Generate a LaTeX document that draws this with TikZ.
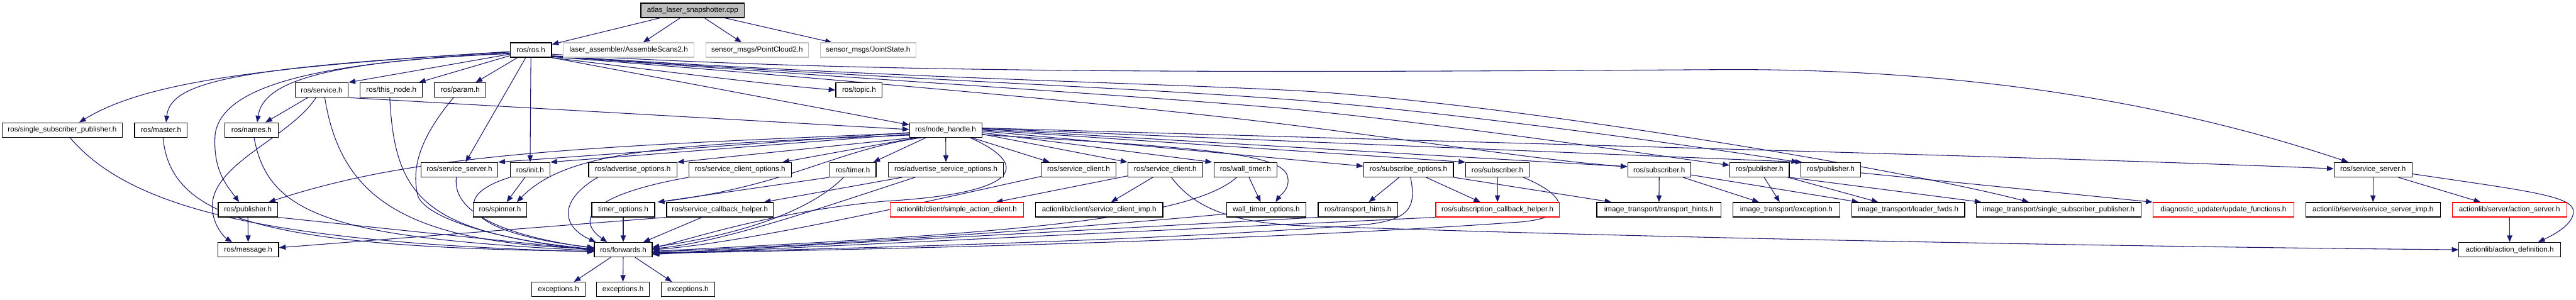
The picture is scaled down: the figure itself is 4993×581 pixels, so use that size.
\documentclass[tikz,border=0pt]{standalone}
\usepackage{fontspec}
\setmainfont{Liberation Sans}
\usetikzlibrary{arrows.meta}
\definecolor{edgec}{HTML}{191970}
\definecolor{greyb}{HTML}{BFBFBF}
\pgfdeclarelayer{bg}
\pgfsetlayers{bg,main}
\begin{document}
\begin{tikzpicture}[x=1pt,y=-1pt,
  box/.style={draw=black, line width=1.5pt, fill=white, minimum height=28pt, inner sep=0pt, font=\fontsize{14.2}{17}\selectfont},
  ghost/.style={box, draw=greyb},
  redb/.style={box, draw=red},
  e/.style={draw=edgec, line width=1.3pt, -{Triangle[length=13pt,width=10pt]}}]
\useasboundingbox (0,0) rectangle (4993,581);
% row 0
\node[box,fill=greyb,minimum width=201pt] (atlas) at (1342.5,20) {atlas\_laser\_snapshotter.cpp};
% row 1
\node[box,minimum width=80pt] (rosh) at (1029,97) {ros/ros.h};
\node[ghost,minimum width=253pt] (asm) at (1218.5,97) {laser\_assembler/AssembleScans2.h};
\node[ghost,minimum width=199pt] (pc2) at (1467.5,97) {sensor\_msgs/PointCloud2.h};
\node[ghost,minimum width=185pt] (joint) at (1682.5,97) {sensor\_msgs/JointState.h};
% row 2
\node[box,minimum width=103pt] (service) at (623.5,174.5) {ros/service.h};
\node[box,minimum width=121pt] (thisnode) at (758.5,174.5) {ros/this\_node.h};
\node[box,minimum width=100pt] (param) at (892,174.5) {ros/param.h};
\node[box,minimum width=90pt] (topic) at (1665,174.5) {ros/topic.h};
% row 3
\node[box,minimum width=233pt] (ssp) at (120.5,252) {ros/single\_subscriber\_publisher.h};
\node[box,minimum width=102pt] (master) at (312,252) {ros/master.h};
\node[box,minimum width=103pt] (names) at (487.5,252) {ros/names.h};
\node[box,minimum width=140pt] (nh) at (1833,252) {ros/node\_handle.h};
% row 4
\node[box,minimum width=149pt] (ssrvL) at (890.5,329) {ros/service\_server.h};
\node[box,minimum width=77pt] (init) at (1027.5,329) {ros/init.h};
\node[box,minimum width=171pt] (advopt) at (1226.5,329) {ros/advertise\_options.h};
\node[box,minimum width=199pt] (scopt) at (1434.5,329) {ros/service\_client\_options.h};
\node[box,minimum width=90pt] (timer) at (1653,329) {ros/timer.h};
\node[box,minimum width=223pt] (advsrv) at (1833.5,329) {ros/advertise\_service\_options.h};
\node[box,minimum width=145pt] (sc1) at (2090.5,329) {ros/service\_client.h};
\node[box,minimum width=145pt] (sc2) at (2258.5,329) {ros/service\_client.h};
\node[box,minimum width=122pt] (wtimer) at (2414,329) {ros/wall\_timer.h};
\node[box,minimum width=174pt] (subopt) at (2730,329) {ros/subscribe\_options.h};
\node[box,minimum width=123pt] (sub1) at (2902.5,329) {ros/subscriber.h};
\node[box,minimum width=122pt] (sub2) at (3216,329) {ros/subscriber.h};
\node[box,minimum width=115pt] (pubA) at (3410.5,329) {ros/publisher.h};
\node[box,minimum width=115pt] (pubB) at (3548.5,329) {ros/publisher.h};
\node[box,minimum width=151pt] (ssrvR) at (4599.5,329) {ros/service\_server.h};
% row 5
\node[box,minimum width=115pt] (pubL) at (480.5,406.5) {ros/publisher.h};
\node[box,minimum width=104pt] (spinner) at (969,406.5) {ros/spinner.h};
\node[box,minimum width=122pt] (topt) at (1208,406.5) {timer\_options.h};
\node[box,minimum width=207pt] (scbh) at (1395.5,406.5) {ros/service\_callback\_helper.h};
\node[redb,minimum width=259pt] (sac) at (1854.5,406.5) {actionlib/client/simple\_action\_client.h};
\node[box,minimum width=247pt] (scimp) at (2130.5,406.5) {actionlib/client/service\_client\_imp.h};
\node[box,minimum width=153pt] (wtopt) at (2454.5,406.5) {wall\_timer\_options.h};
\node[box,minimum width=154pt] (thints) at (2632,406.5) {ros/transport\_hints.h};
\node[redb,minimum width=239pt] (subcb) at (2902.5,406.5) {ros/subscription\_callback\_helper.h};
\node[box,minimum width=241pt] (itth) at (3215.5,406.5) {image\_transport/transport\_hints.h};
\node[box,minimum width=207pt] (itexc) at (3462.5,406.5) {image\_transport/exception.h};
\node[box,minimum width=219pt] (itlf) at (3698.5,406.5) {image\_transport/loader\_fwds.h};
\node[box,minimum width=319pt] (itssp) at (3990.5,406.5) {image\_transport/single\_subscriber\_publisher.h};
\node[redb,minimum width=273pt] (diag) at (4309.5,406.5) {diagnostic\_updater/update\_functions.h};
\node[box,minimum width=261pt] (ssimp) at (4599.5,406.5) {actionlib/server/service\_server\_imp.h};
\node[redb,minimum width=222pt] (asrv) at (4864,406.5) {actionlib/server/action\_server.h};
% row 6
\node[box,minimum width=118pt] (message) at (481,484) {ros/message.h};
\node[box,minimum width=112pt] (fwd) at (1208,484) {ros/forwards.h};
\node[box,minimum width=197pt] (actdef) at (4864.5,484) {actionlib/action\_definition.h};
% row 7
\node[box,minimum width=103pt] (exc1) at (1082.5,561) {exceptions.h};
\node[box,minimum width=103pt] (exc2) at (1207.5,561) {exceptions.h};
\node[box,minimum width=103pt] (exc3) at (1333.5,561) {exceptions.h};

\begin{pgfonlayer}{bg}
% atlas
\draw[e] ([xshift=-63]atlas.south) -- ([yshift=11]rosh.east);
\draw[e] ([xshift=-24]atlas.south) -- ([xshift=28]asm.north);
\draw[e] ([xshift=23]atlas.south) -- ([xshift=-30]pc2.north);
\draw[e] ([xshift=62]atlas.south) -- ([xshift=-70]joint.north);
% ros.h
\draw[e] ([yshift=-3]rosh.west) .. controls (500,130) and (280,160) .. ([xshift=33]ssp.north);
\draw[e] ([yshift=-4]rosh.west) .. controls (450,130) and (330,160) .. ([xshift=10]master.north);
\draw[e] ([yshift=-6]rosh.west) .. controls (620,120) and (510,160) .. ([xshift=11]names.north);
\draw[e] ([yshift=-7]rosh.west) .. controls (600,120) and (430,170) .. (417,260) .. controls (412,330) and (440,360) .. ([xshift=-17]pubL.north);
\draw[e] ([yshift=-8]rosh.west) -- (service.north east);
\draw[e] ([yshift=-11]rosh.west) -- ([xshift=-8]thisnode.north east);
\draw[e] ([xshift=-26]rosh.south) -- ([xshift=30]param.north);
\draw[e] ([xshift=-10]rosh.south) -- ([xshift=12]ssrvL.north);
\draw[e] (rosh.south) -- (init.north);
\draw[e] (rosh.south east) .. controls (1300,140) and (1500,165) .. (topic.west);
\draw[e] (rosh.south east) -- ([yshift=10]nh.west);
\draw[e] ([yshift=-11]rosh.east) .. controls (1700,150) and (2200,160) .. (2500,175) .. controls (2900,195) and (3700,330) .. ([xshift=-58]itssp.north);
\draw[e] ([yshift=-12]rosh.east) .. controls (1700,152) and (2200,170) .. (2500,193) .. controls (2800,215) and (3300,285) .. ([xshift=-5]pubB.north west);
\draw[e] ([yshift=-12]rosh.east) .. controls (1700,155) and (2200,185) .. (2500,211) .. controls (2800,240) and (3200,300) .. ([yshift=-6]pubA.north west);
\draw[e] ([yshift=-13]rosh.east) .. controls (1700,160) and (2200,205) .. (2500,242) .. controls (2800,280) and (3000,312) .. ([yshift=6]sub2.west);
\draw[e] ([yshift=-8]rosh.east) .. controls (1700,145) and (2500,140) .. (3320,135) .. controls (3900,130) and (4300,230) .. ([xshift=-48]ssrvR.north);
% service.h
\draw[e] ([xshift=-27]service.south) -- ([xshift=27]names.north);
\draw[e] ([xshift=-11]service.south) .. controls (560,270) and (400,320) .. (412,410) .. controls (416,440) and (435,460) .. ([xshift=-31]message.north);
\draw[e] ([xshift=6]service.south) .. controls (660,380) and (780,470) .. ([yshift=2]fwd.west);
\draw[e] (service.south east) -- ([yshift=1]nh.west);
\draw[e] ([xshift=-3]thisnode.south) .. controls (765,380) and (820,450) .. ([yshift=1]fwd.west);
\draw[e] ([xshift=-13]param.south) .. controls (820,260) and (795,320) .. (810,380) .. controls (830,430) and (1000,470) .. ([yshift=0]fwd.west);
% left column to forwards
\draw[e] ([xshift=15]ssp.south) .. controls (250,400) and (500,470) .. ([yshift=-4]fwd.west);
\draw[e] ([xshift=4]master.south) .. controls (330,420) and (500,480) .. ([yshift=-3]fwd.west);
\draw[e] ([xshift=5]names.south) .. controls (520,420) and (650,460) .. ([yshift=-2]fwd.west);
\draw[e] (pubL.south east) -- ([yshift=-1]fwd.west);
\draw[e] (pubL.south) -- (message.north);
\draw[e] (scbh.south west) -- ([yshift=4]message.east);
% node_handle
\draw[e] ([yshift=-6]nh.west) .. controls (1100,285) and (800,300) .. ([xshift=-18]pubL.north east);
\draw[e] ([yshift=-5]nh.west) -- (ssrvL.north east);
\draw[e] ([yshift=-8]nh.west) -- (init.north east);
\draw[e] ([yshift=-10]nh.west) .. controls (1300,280) and (1100,290) .. ([xshift=-20]spinner.north east);
\draw[e] ([xshift=10]nh.south west) -- (advopt.north east);
\draw[e] ([xshift=15]nh.south west) -- ([xshift=-18]scopt.north east);
\draw[e] ([xshift=25]nh.south west) .. controls (1620,290) and (1530,360) .. ([xshift=5]topt.north east);
\draw[e] ([xshift=-38]nh.south) -- ([xshift=-6]timer.north east);
\draw[e] (nh.south) -- (advsrv.north);
\draw[e] ([xshift=47]nh.south) .. controls (2000,320) and (1980,375) .. (1714,390) .. controls (1500,410) and (1350,460) .. ([yshift=3]fwd.east);
\draw[e] ([xshift=50]nh.south) -- ([xshift=-56]sc1.north);
\draw[e] ([yshift=-8]nh.east) -- (sc2.north west);
\draw[e] ([yshift=-5]nh.east) -- ([xshift=-3]wtimer.north west);
\draw[e] ([yshift=-9]nh.east) .. controls (2300,285) and (2480,295) .. (2495,340) .. controls (2503,365) and (2480,380) .. ([xshift=18]wtopt.north);
\draw[e] ([yshift=-2]nh.east) -- ([yshift=7]subopt.west);
\draw[e] (nh.east) -- (sub1.north west);
\draw[e] ([yshift=2]nh.east) -- ([yshift=6]sub2.west);
\draw[e] ([yshift=3]nh.east) -- ([xshift=3]pubB.north west);
\draw[e] ([yshift=4]nh.east) .. controls (3000,280) and (4000,305) .. ([yshift=2]ssrvR.west);
% row 4 left group
\draw[e] ([xshift=-10]init.south) -- ([xshift=13]spinner.north);
\draw[e] (init.south west) .. controls (870,380) and (890,450) .. ([yshift=4]fwd.west);
\draw[e] ([xshift=-6]ssrvL.south) .. controls (875,420) and (1000,460) .. ([yshift=3]fwd.west);
\draw[e] ([xshift=-68]advopt.south) .. controls (1080,390) and (1090,440) .. ([xshift=-53]fwd.north);
\draw[e] ([xshift=-100]scopt.south) .. controls (1130,380) and (1120,430) .. ([xshift=-31]fwd.north);
\draw[e] (timer.south west) -- ([xshift=5]topt.north east);
\draw[e] ([xshift=-18]timer.south) .. controls (1560,420) and (1400,460) .. ([yshift=5]fwd.east);
\draw[e] (topt.south) -- (fwd.north);
\draw[e] ([xshift=-35]scbh.south) -- ([xshift=39]fwd.north);
\draw[e] ([xshift=-85]advsrv.south) -- ([xshift=-19]scbh.north east);
\draw[e] ([xshift=-60]advsrv.south) .. controls (1600,400) and (1400,470) .. ([yshift=2]fwd.east);
\draw[e] ([yshift=-13]sc1.west) .. controls (1800,390) and (1450,470) .. ([yshift=0]fwd.east);
% service_client (2)
\draw[e] ([yshift=-12]sc2.west) -- ([xshift=76]sac.north);
\draw[e] ([xshift=-24]sc2.south) -- ([xshift=23]scimp.north);
\draw[e] ([xshift=12]sc2.south) .. controls (2320,410) and (2400,430) .. (2510,437) .. controls (3300,465) and (4300,480) .. (actdef.west);
% wall timer
\draw[e] ([xshift=7]wtimer.south) -- ([xshift=-11]wtopt.north);
\draw[e] ([xshift=-17]wtimer.south) .. controls (2300,430) and (1900,455) .. ([yshift=-3]fwd.east);
\draw[e] ([yshift=-8]wtopt.west) .. controls (2000,450) and (1500,480) .. ([yshift=-4]fwd.east);
% subscribe options / subscriber
\draw[e] ([xshift=-18]subopt.south) -- ([xshift=21]thints.north);
\draw[e] ([xshift=34]subopt.south) -- ([xshift=-33]subcb.north);
\draw[e] (subopt.south east) -- ([xshift=-92]itth.north);
\draw[e] ([xshift=4]subopt.south) .. controls (2745,400) and (2735,425) .. (2650,435) .. controls (2200,470) and (1500,485) .. ([yshift=-6]fwd.east);
\draw[e] (sub1.south) -- (subcb.north);
\draw[e] ([xshift=50]sub1.south) .. controls (3040,380) and (3050,420) .. (2950,430) .. controls (2400,470) and (1600,485) .. ([yshift=-7]fwd.east);
\draw[e] (thints.south west) -- ([yshift=-8]fwd.east);
\draw[e] (subcb.south west) -- ([yshift=-9]fwd.east);
\draw[e] (sub2.south) -- (itth.north);
\draw[e] ([xshift=46]sub2.south) -- ([xshift=-53]itexc.north);
\draw[e] ([yshift=-10]sub2.east) -- ([xshift=-96]itlf.north);
% publishers
\draw[e] ([xshift=9]pubA.south) -- ([xshift=-13]itexc.north);
\draw[e] ([xshift=55]pubA.south) -- ([xshift=-58]itlf.north);
\draw[e] (pubA.south east) -- ([xshift=-150]itssp.north);
\draw[e] ([yshift=-6]pubB.east) -- (diag.north west);
% service server (right)
\draw[e] (ssrvR.south) -- (ssimp.north);
\draw[e] ([xshift=49]ssrvR.south) -- ([xshift=-56]asrv.north);
\draw[e] ([yshift=-8]ssrvR.east) .. controls (4900,370) and (4988,380) .. (4988,410) .. controls (4988,435) and (4950,455) .. ([xshift=55]actdef.north);
\draw[e] (asrv.south) -- (actdef.north);
% forwards
\draw[e] ([xshift=-24]fwd.south) -- ([xshift=30]exc1.north);
\draw[e] (fwd.south) -- (exc2.north);
\draw[e] ([xshift=23]fwd.south) -- ([xshift=-31]exc3.north);
\end{pgfonlayer}
\end{tikzpicture}
\end{document}
